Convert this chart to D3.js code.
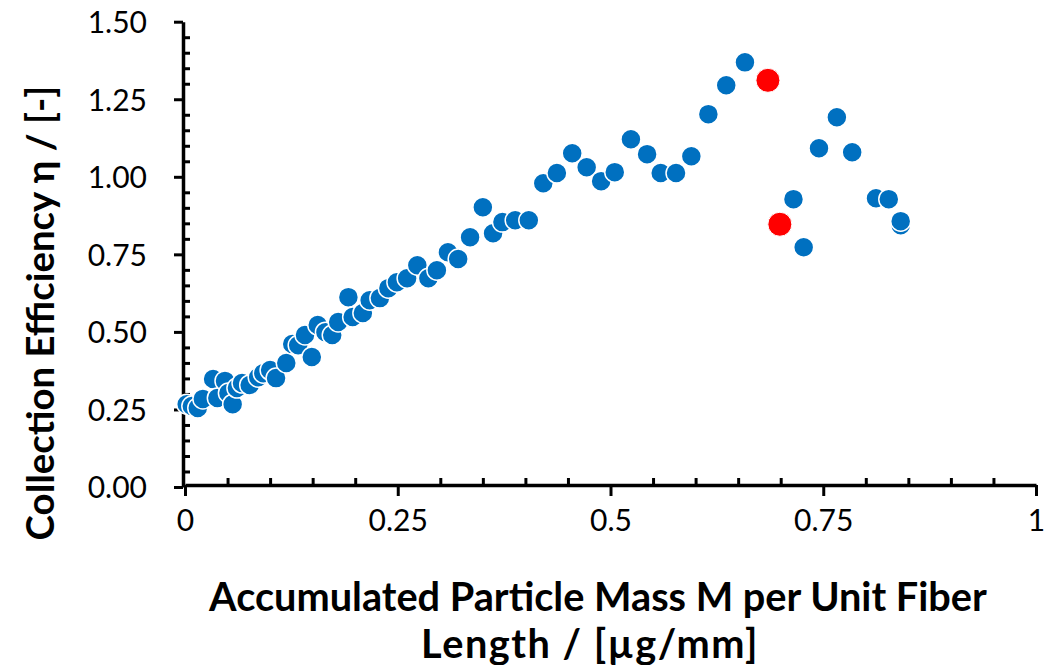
<!DOCTYPE html>
<html><head><meta charset="utf-8">
<script src="https://cdn.jsdelivr.net/npm/d3@7"></script>
<style>
html,body{margin:0;padding:0;background:#fff;}
svg{display:block;}
text{font-family:Lato,"Open Sans",sans-serif;fill:#000;}
</style></head>
<body>
<svg id="chart" width="1053" height="665"></svg>
<script>
// Blue series (accumulated mass, efficiency)
const blueX = [0.002,0.008,0.015,0.021,0.033,0.038,0.047,0.051,0.056,0.061,0.067,0.076,0.086,0.092,0.100,0.107,0.119,0.126,0.133,0.141,0.149,0.156,0.165,0.173,0.180,0.192,0.197,0.209,0.217,0.229,0.239,0.249,0.261,0.273,0.286,0.296,0.309,0.321,0.335,0.350,0.362,0.373,0.388,0.404,0.421,0.437,0.455,0.472,0.489,0.505,0.524,0.543,0.559,0.577,0.595,0.615,0.636,0.658,0.715,0.727,0.745,0.766,0.784,0.812,0.827,0.841,0.841];
const blueY = [0.267,0.261,0.255,0.284,0.348,0.287,0.342,0.303,0.267,0.319,0.335,0.329,0.354,0.367,0.377,0.351,0.400,0.461,0.457,0.490,0.419,0.522,0.499,0.490,0.532,0.612,0.548,0.561,0.602,0.609,0.641,0.660,0.673,0.715,0.673,0.699,0.757,0.735,0.805,0.902,0.818,0.854,0.860,0.860,0.979,1.012,1.076,1.031,0.986,1.015,1.121,1.073,1.012,1.012,1.066,1.202,1.295,1.369,0.928,0.773,1.092,1.192,1.079,0.931,0.928,0.844,0.857];
// Red highlighted points
const redX = [0.685,0.699];
const redY = [1.311,0.847];
// Axis ticks
const xTicks = [0,0.25,0.5,0.75,1];
const xTickLabels = ["0","0.25","0.5","0.75","1"];
const yTicks = [0,0.25,0.5,0.75,1.0,1.25,1.5];
const yTickLabels = ["0.00","0.25","0.50","0.75","1.00","1.25","1.50"];
const xTitle1 = "Accumulated Particle Mass M per Unit Fiber";
const xTitle2 = "Length / [µg/mm]";
const yTitle = "Collection Efficiency η / [-]";

const svg = d3.select("#chart");
const x = d3.scaleLinear().domain([0,1]).range([185,1036]);
const y = d3.scaleLinear().domain([0,1.5]).range([487,21.7]);

const minorX = d3.range(0,1.0001,0.05).filter(v=>Math.abs(v*4-Math.round(v*4))>1e-6);
const minorY = d3.range(0,1.5001,0.05).filter(v=>Math.abs(v*4-Math.round(v*4))>1e-6);

function styleAxis(g){
  g.select(".domain").attr("stroke","#000").attr("stroke-width",3.5);
  g.selectAll(".tick line").attr("stroke","#000").attr("stroke-width",3);
}
// X axis
const gxMinor = svg.append("g").attr("transform","translate(0,485)")
  .call(d3.axisBottom(x).tickValues(minorX).tickSize(-7).tickSizeOuter(0).tickFormat(""));
gxMinor.select(".domain").remove();
gxMinor.selectAll(".tick line").attr("stroke","#000").attr("stroke-width",3);
const gx = svg.append("g").attr("transform","translate(0,485)")
  .call(d3.axisBottom(x).tickValues(xTicks).tickSize(11).tickSizeOuter(0).tickPadding(14)
    .tickFormat((d,i)=>xTickLabels[i]));
styleAxis(gx);
gx.selectAll(".tick text").attr("font-size",30).attr("dy","0.71em");

// Y axis
const gyMinor = svg.append("g").attr("transform","translate(183,0)")
  .call(d3.axisLeft(y).tickValues(minorY).tickSize(-7).tickSizeOuter(0).tickFormat(""));
gyMinor.select(".domain").remove();
gyMinor.selectAll(".tick line").attr("stroke","#000").attr("stroke-width",3);
const gy = svg.append("g").attr("transform","translate(183,0)")
  .call(d3.axisLeft(y).tickValues(yTicks).tickSize(9).tickSizeOuter(0).tickPadding(27)
    .tickFormat((d,i)=>yTickLabels[i]));
styleAxis(gy);
gy.selectAll(".tick text").attr("font-size",30).attr("dy","0.36em");

// Points
const blue = blueX.map((v,i)=>({x:v,y:blueY[i]}));
svg.append("g").selectAll("circle").data(blue).join("circle")
  .attr("cx",d=>x(d.x)).attr("cy",d=>y(d.y)).attr("r",10)
  .attr("fill","#0070C0").attr("stroke","#fff").attr("stroke-width",1.5);
const red = redX.map((v,i)=>({x:v,y:redY[i]}));
svg.append("g").selectAll("circle").data(red).join("circle")
  .attr("cx",d=>x(d.x)).attr("cy",d=>y(d.y)).attr("r",12)
  .attr("fill","#FF0000").attr("stroke","#fff").attr("stroke-width",1);

// Titles, fit to measured widths
function fit(t,target,start){
  t.attr("font-size",start);
  const w=t.node().getComputedTextLength();
  t.attr("font-size",start*target/w);
}
const t1 = svg.append("text").attr("x",598).attr("y",611).attr("text-anchor","middle")
  .attr("font-weight","bold").text(xTitle1);
fit(t1,778,34);
const t2 = svg.append("text").attr("x",590).attr("y",658).attr("text-anchor","middle")
  .attr("font-weight","bold").attr("letter-spacing",1.5).text(xTitle2);
t2.attr("font-size",t1.attr("font-size"));
const ty = svg.append("text").attr("transform","translate(54,313) rotate(-90)")
  .attr("text-anchor","middle").attr("font-weight","bold").text(yTitle);
fit(ty,455,30);
</script>
</body></html>
